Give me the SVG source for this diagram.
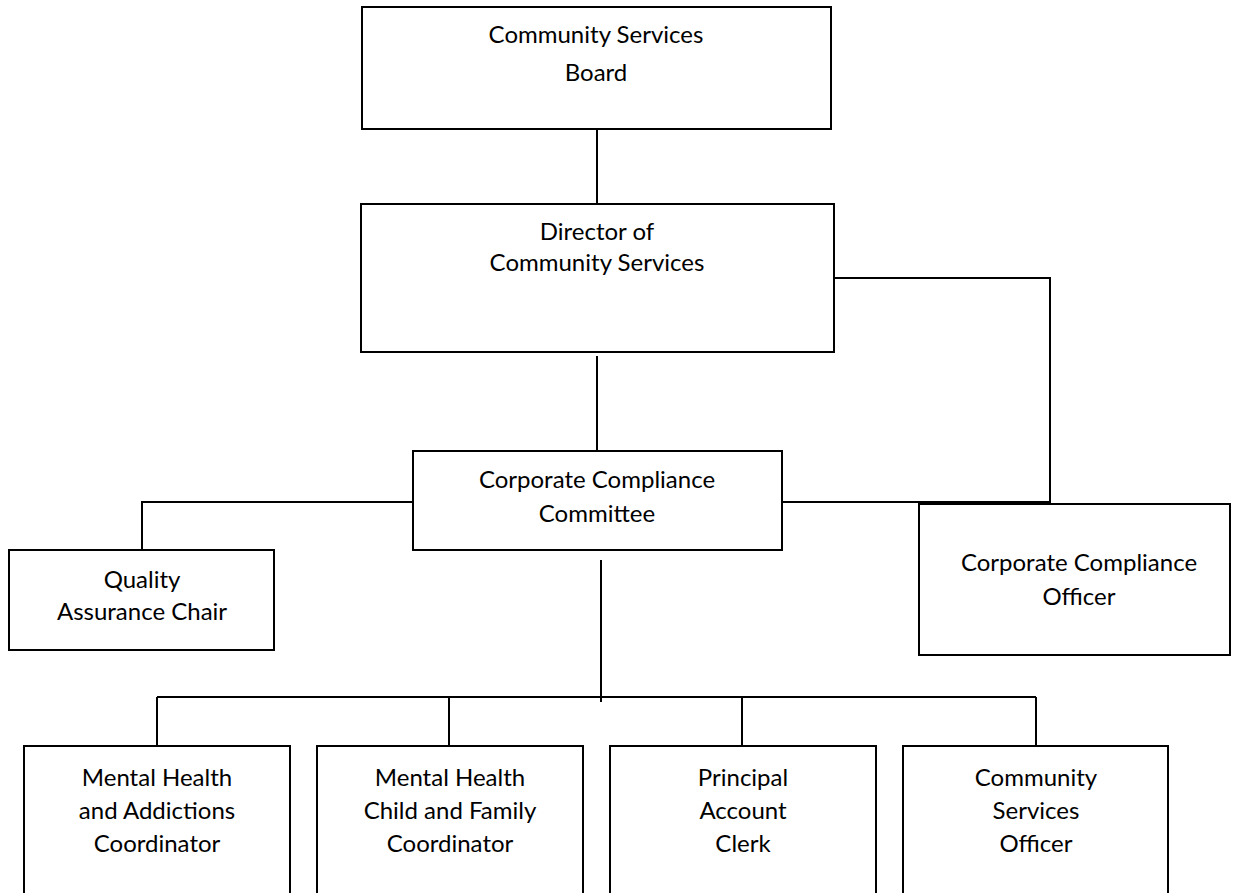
<svg xmlns="http://www.w3.org/2000/svg" width="1249" height="893" viewBox="0 0 1249 893">
<style>
.box{fill:#fff;stroke:#000;stroke-width:2}
.conn{fill:none;stroke:#000;stroke-width:2}
text{font-family:Lato,"Open Sans","Liberation Sans",sans-serif;font-size:24px;fill:#000;text-anchor:middle}
</style>
<rect width="1249" height="893" fill="#fff"/>
<g id="connectors">
<line class="conn" x1="597" y1="129" x2="597" y2="204"/>
<polyline class="conn" points="834,278 1050,278 1050,504"/>
<line class="conn" x1="597" y1="356" x2="597" y2="455"/>
<polyline class="conn" points="413,502 142,502 142,550"/>
<line class="conn" x1="782" y1="502" x2="1050" y2="502"/>
<line class="conn" x1="601" y1="560" x2="601" y2="702"/>
<line class="conn" x1="157" y1="697" x2="1036" y2="697"/>
<line class="conn" x1="157" y1="697" x2="157" y2="746"/>
<line class="conn" x1="449" y1="697" x2="449" y2="746"/>
<line class="conn" x1="742" y1="697" x2="742" y2="746"/>
<line class="conn" x1="1036" y1="697" x2="1036" y2="746"/>
</g>
<g id="board"><rect class="box" x="362" y="7" width="469" height="122"/><text x="596" y="43">Community Services</text><text x="596" y="81">Board</text></g>
<g id="director"><rect class="box" x="361" y="204" width="473" height="148"/><text x="597" y="240">Director of</text><text x="597" y="271">Community Services</text></g>
<g id="committee"><rect class="box" x="413" y="451" width="369" height="99"/><text x="597" y="488">Corporate Compliance</text><text x="597" y="522">Committee</text></g>
<g id="qa"><rect class="box" x="9" y="550" width="265" height="100"/><text x="142" y="588">Quality</text><text x="142" y="620">Assurance Chair</text></g>
<g id="officer"><rect class="box" x="919" y="504" width="311" height="151"/><text x="1079" y="571">Corporate Compliance</text><text x="1079" y="605">Officer</text></g>
<g id="mhac"><rect class="box" x="24" y="746" width="266" height="160"/><text x="157" y="786">Mental Health</text><text x="157" y="819">and Addictions</text><text x="157" y="852">Coordinator</text></g>
<g id="mhcf"><rect class="box" x="317" y="746" width="266" height="160"/><text x="450" y="786">Mental Health</text><text x="450" y="819">Child and Family</text><text x="450" y="852">Coordinator</text></g>
<g id="pac"><rect class="box" x="610" y="746" width="266" height="160"/><text x="743" y="786">Principal</text><text x="743" y="819">Account</text><text x="743" y="852">Clerk</text></g>
<g id="cso"><rect class="box" x="903" y="746" width="265" height="160"/><text x="1036" y="786">Community</text><text x="1036" y="819">Services</text><text x="1036" y="852">Officer</text></g>
</svg>
